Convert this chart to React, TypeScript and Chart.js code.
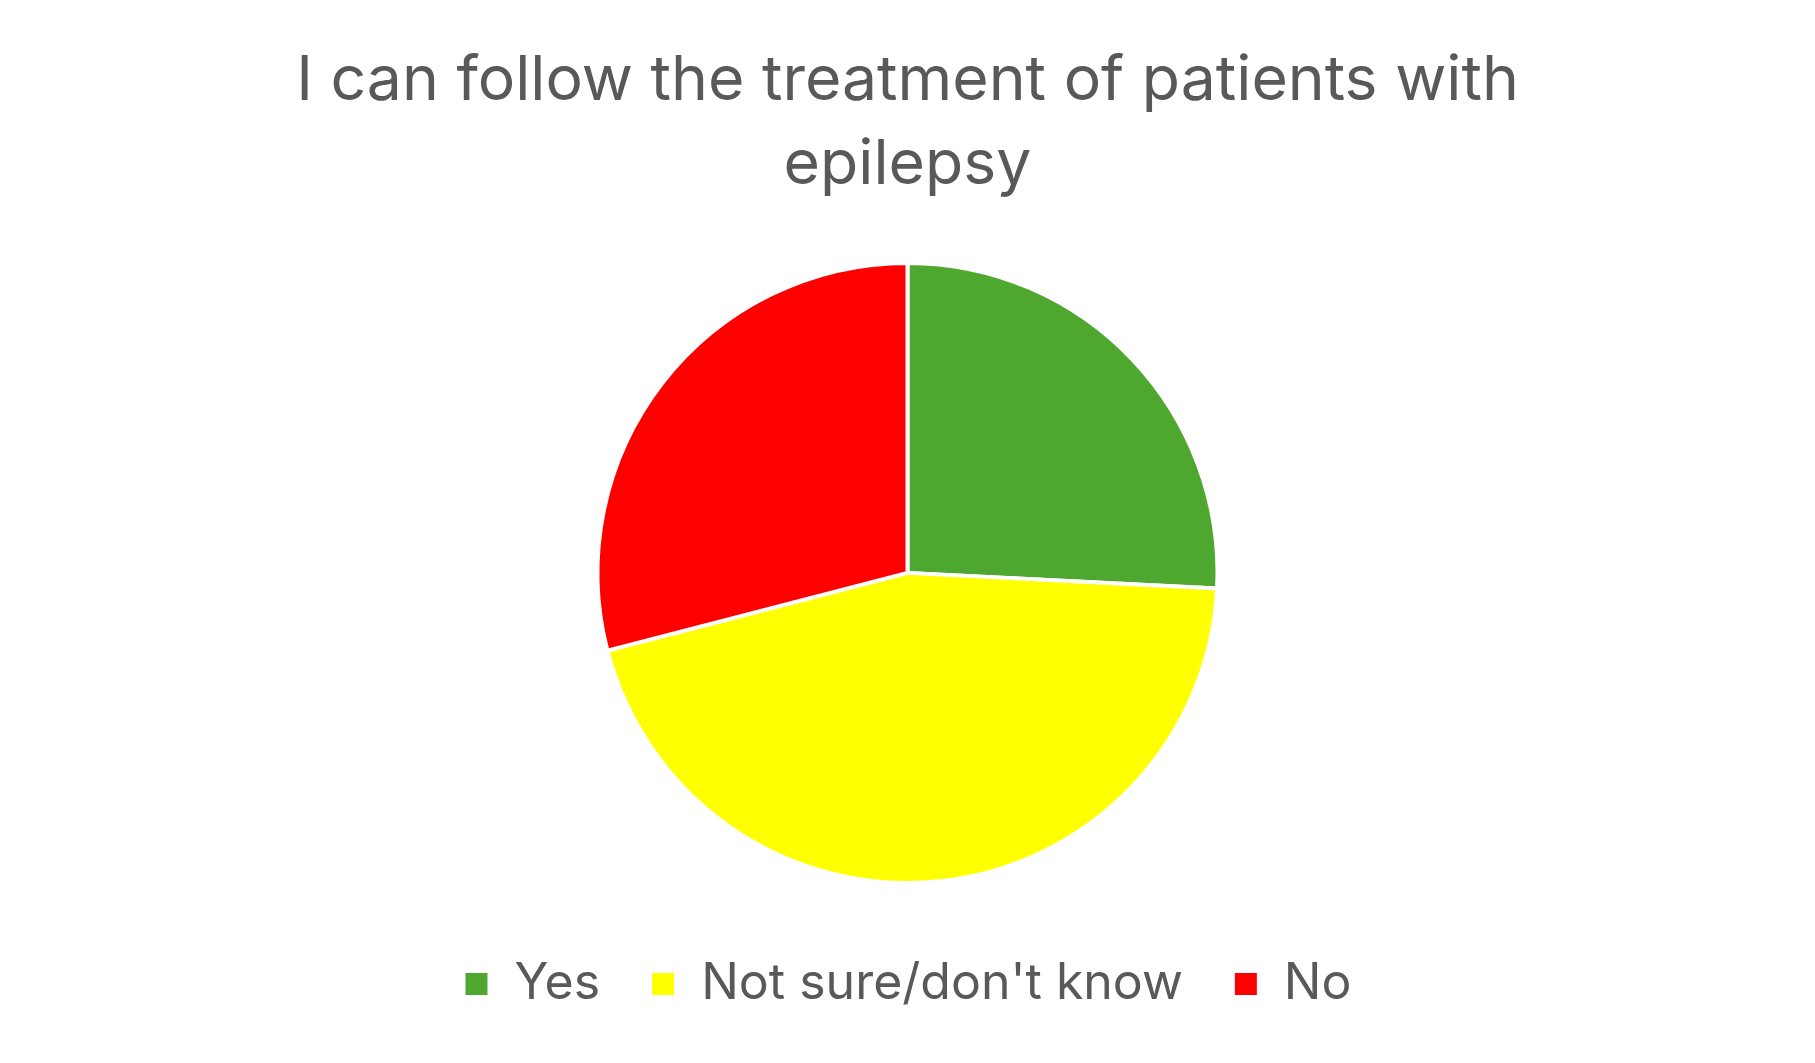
import React, { useEffect, useRef } from 'react';
import Chart from 'chart.js/auto';

const titleLines = ['I can follow the treatment of patients with', 'epilepsy'];
const categories = ['Yes', "Not sure/don't know", 'No'];
const counts = [8, 14, 9];
const colors = ['#4EA72E', '#FFFF00', '#FF0000'];

const FONT = "Inter, 'Open Sans', sans-serif";

const App: React.FC = () => {
    const chartRef = useRef<HTMLCanvasElement>(null);

    useEffect(() => {
        document.body.style.margin = '0';
        if (!chartRef.current) return;
        const chart = new Chart(chartRef.current, {
            type: 'pie',
            data: {
                labels: categories,
                datasets: [{
                    data: counts,
                    backgroundColor: colors,
                    borderColor: '#ffffff',
                    borderWidth: 4,
                    radius: 310,
                }],
            },
            options: {
                animation: false,
                responsive: true,
                maintainAspectRatio: false,
                layout: {
                    padding: { top: 0, bottom: 44, left: 0, right: 0 },
                },
                plugins: {
                    title: {
                        display: true,
                        text: titleLines,
                        color: '#595959',
                        font: { family: FONT, size: 62.5, weight: 'normal', lineHeight: 1.35 },
                        padding: { top: 39, bottom: 29 },
                    },
                    legend: {
                        position: 'bottom',
                        labels: {
                            color: '#595959',
                            font: { family: FONT, size: 50 },
                            boxWidth: 26,
                            boxHeight: 26,
                            padding: 50,
                        },
                    },
                    tooltip: { enabled: false },
                },
            },
        });
        return () => {
            chart.destroy();
        };
    }, []);

    return (
        <div style={{ position: 'relative', width: '1815px', height: '1063px', background: '#ffffff' }}>
            <canvas ref={chartRef} />
        </div>
    );
};

export default App;
